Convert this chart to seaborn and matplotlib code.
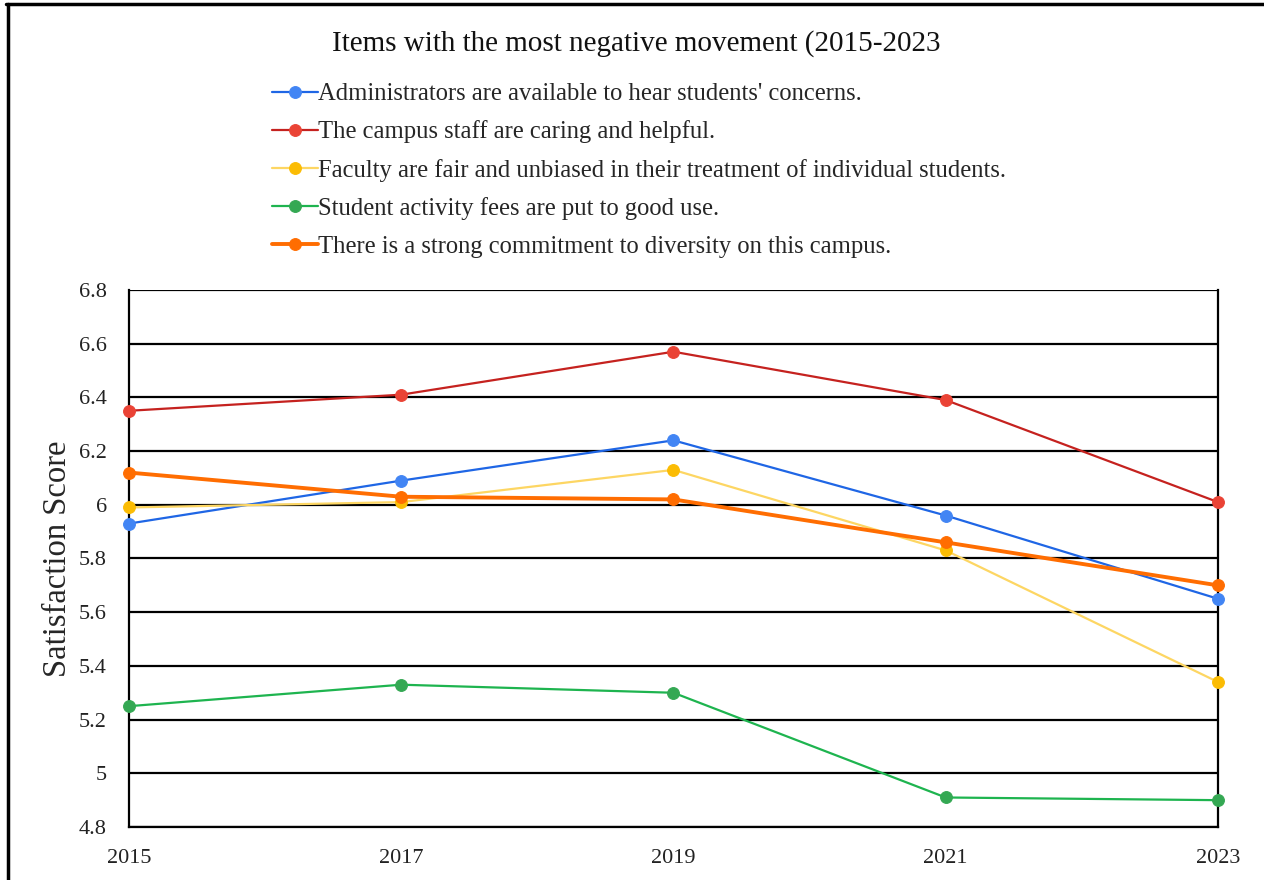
import matplotlib
matplotlib.use("Agg")
import matplotlib.pyplot as plt
import seaborn as sns
import pandas as pd
from matplotlib.lines import Line2D

years = [2015, 2017, 2019, 2021, 2023]
admin = [5.93, 6.09, 6.24, 5.96, 5.65]
staff = [6.35, 6.41, 6.57, 6.39, 6.01]
faculty = [5.99, 6.01, 6.13, 5.83, 5.34]
fees = [5.25, 5.33, 5.30, 4.91, 4.90]
diversity = [6.12, 6.03, 6.02, 5.86, 5.70]

labels = [
    "Administrators are available to hear students' concerns.",
    "The campus staff are caring and helpful.",
    "Faculty are fair and unbiased in their treatment of individual students.",
    "Student activity fees are put to good use.",
    "There is a strong commitment to diversity on this campus.",
]
series = [admin, staff, faculty, fees, diversity]
line_colors = ["#1f66e5", "#c5221f", "#fdd663", "#1eb44f", "#ff6d01"]
marker_colors = ["#4285f4", "#ea4335", "#fbbc04", "#34a853", "#ff6d01"]
widths = [1.6, 1.6, 1.6, 1.6, 2.8]

sns.set_theme(style="white")
plt.rcParams["font.family"] = ["Liberation Serif", "DejaVu Serif"]

fig = plt.figure(figsize=(12.64, 8.8), dpi=100)
ax = fig.add_axes([0.102, 0.0602, 0.8616, 0.6103])

for lab, vals, lc, mc, lw in zip(labels, series, line_colors, marker_colors, widths):
    df = pd.DataFrame({"Year": years, "Score": vals})
    sns.lineplot(data=df, x="Year", y="Score", ax=ax, color=lc, linewidth=lw,
                 marker="o", markersize=8.5, markerfacecolor=mc, markeredgecolor=mc,
                 label=lab, clip_on=False, zorder=3)

ax.set_xlim(2015, 2023)
ax.set_ylim(4.8, 6.8)
ax.set_xticks(years)
ax.set_xticklabels([str(y) for y in years])
yt = [4.8, 5.0, 5.2, 5.4, 5.6, 5.8, 6.0, 6.2, 6.4, 6.6, 6.8]
ax.set_yticks(yt)
ax.set_yticklabels(["4.8", "5", "5.2", "5.4", "5.6", "5.8", "6", "6.2", "6.4", "6.6", "6.8"])
ax.tick_params(axis="both", labelsize=16, colors="#222222", length=0)
ax.tick_params(axis="x", pad=16)
ax.tick_params(axis="y", pad=16)
ax.grid(axis="y", color="black", linewidth=1.6)
ax.grid(axis="x", visible=False)
ax.set_axisbelow(True)
for s in ["left", "right", "bottom"]:
    ax.spines[s].set_visible(True)
    ax.spines[s].set_color("black")
    ax.spines[s].set_linewidth(1.6)
ax.spines["top"].set_visible(False)
ax.set_xlabel("")
ax.set_ylabel("Satisfaction Score", fontsize=23.5, labelpad=4)

handles, labs = ax.get_legend_handles_labels()
ax.legend_.remove()
fig.legend(handles, labs, loc="upper left", bbox_to_anchor=(0.2075, 0.917),
           frameon=False, fontsize=17.75, handlelength=1.87, handletextpad=0.0,
           labelspacing=0.62, borderaxespad=0)

fig.text(0.503, 0.950, "Items with the most negative movement (2015-2023",
         ha="center", va="center", fontsize=21, color="#111111")

fig.add_artist(Line2D([0.005, 1.0], [0.995, 0.995], color="black", linewidth=2.5,
                      transform=fig.transFigure))
fig.add_artist(Line2D([0.006, 0.006], [0.0, 0.995], color="black", linewidth=2.5,
                      transform=fig.transFigure))

fig.savefig("out.png", dpi=100)
